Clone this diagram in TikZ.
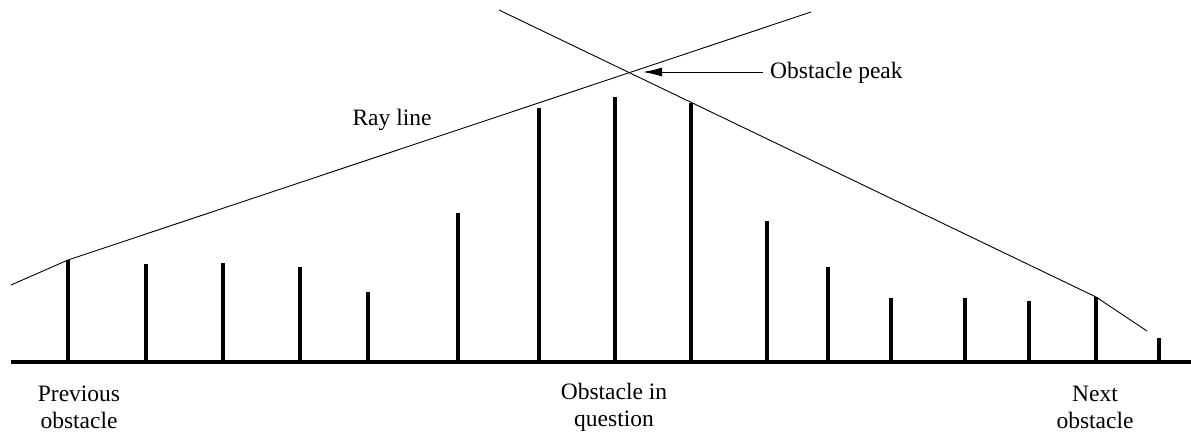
\documentclass[tikz,border=0pt]{standalone}
\usepackage{fontspec}
\setmainfont{Liberation Serif}
\usetikzlibrary{arrows.meta}
\begin{document}
\begin{tikzpicture}[x=1pt,y=-1pt,
  bar/.style={line width=3.3pt},
  ground/.style={line width=4pt},
  ray/.style={line width=0.9pt},
  lbl/.style={font=\fontsize{23.5}{27}\selectfont, inner sep=0pt, align=center}]
\useasboundingbox (0,0) rectangle (1191,437);
% ground
\coordinate (g0) at (11,362);
\coordinate (g1) at (1191,362);
\draw[ground] (g0) -- (g1);
% bars
\foreach \i/\x/\t in {1/68/260, 2/146/264, 3/223/263, 4/300/267, 5/368/292, 6/458/213,
  7/539/108, 8/615/97, 9/691/103, 10/767/221, 11/828/267, 12/891/298, 13/965/298,
  14/1029/301, 15/1096/297, 16/1159/338} {
  \coordinate (b\i) at (\x,362);
  \coordinate (t\i) at (\x,\t);
  \draw[bar] (b\i) -- (t\i);
}
% ray lines
\coordinate (l0) at (11,285);
\coordinate (l1) at (68,260);
\coordinate (l2) at (811,12);
\draw[ray] (l0) -- (l1) -- (l2);
\coordinate (r0) at (499,10);
\coordinate (r1) at (1096,297);
\coordinate (r2) at (1147,331);
\draw[ray] (r0) -- (r1) -- (r2);
% labels
\node[lbl, anchor=base west, inner xsep=7pt] (peaklbl) at (763,78) {Obstacle peak};
\coordinate (ptip) at (643,72);
\draw[ray, -{Latex[length=19pt,width=9pt]}] (peaklbl.west |- ptip) -- (ptip);
\node[lbl, anchor=base] (raylbl) at (392,125) {Ray line};
\node[lbl, anchor=center] (prev) at (79,407) {Previous\\obstacle};
\node[lbl, anchor=center] (quest) at (614,407) {Obstacle in\\question};
\node[lbl, anchor=center] (next) at (1095,407) {Next\\obstacle};
\end{tikzpicture}
\end{document}
